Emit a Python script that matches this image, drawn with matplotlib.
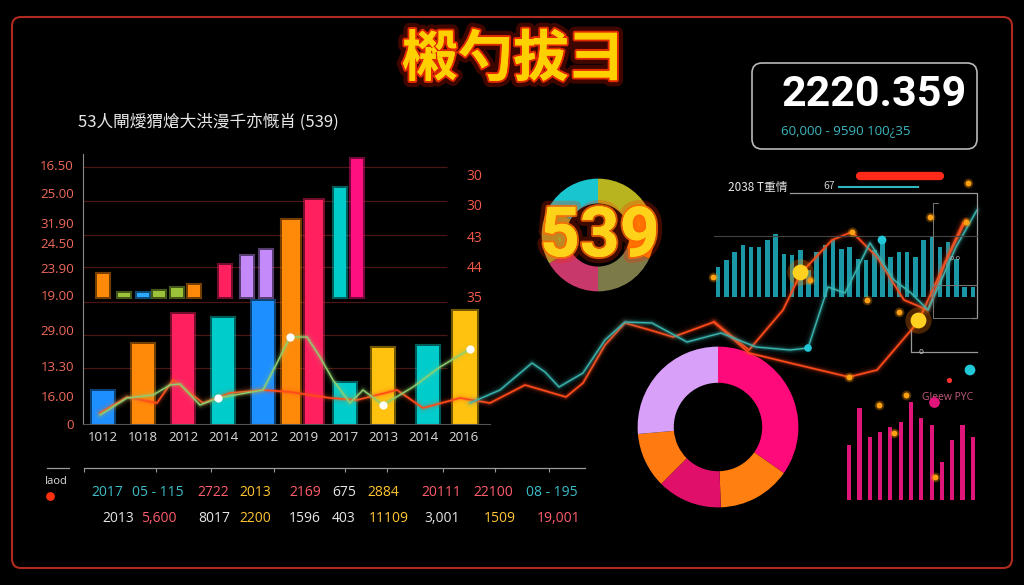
import numpy as np
import matplotlib.pyplot as plt
from matplotlib import patheffects as pe
from matplotlib.patches import FancyBboxPatch

plt.rcParams['font.family'] = ['Noto Sans CJK SC', 'DejaVu Sans']

W, H = 1024, 585

# ---- main bar chart data ----
years = ['1012', '1018', '2012', '2014', '2012', '2019', '2017', '2013', '2014', '2016']
left_ticks = ['0', '16.00', '13.30', '29.00', '19.00', '23.90', '24.50', '31.90', '25.00', '16.50']
left_tick_vals = [0, 28, 58, 94, 129, 156, 181, 201, 231, 259]
right_ticks = ['35', '44', '43', '30', '30']
right_tick_vals = [127, 157, 187, 219, 249]
grid_vals = [56, 89, 122, 157, 189, 223, 257]

base_pos = [0, 1, 2, 3, 4, 4.7, 5.28, 6.05, 7.0, 8.13, 9.05]
base_vals = [33, 80, 110, 106, 123, 204, 224, 41, 76, 78, 113]
float_pos = [0, 0.53, 1.0, 1.4, 1.85, 2.28, 3.05, 3.6, 4.08, 5.93, 6.35]
float_vals = [23, 4, 4, 6, 9, 12, 32, 41, 47, 109, 138]
float_base = 127

# ---- wandering lines (pixel space of the whole dashboard) ----
green_x = [100, 127, 153, 170, 180, 200, 218, 263, 277, 290, 307, 320, 333, 350, 363, 383, 413, 440, 470]
green_y = [415, 398, 395, 385, 384, 405, 398, 390, 363, 337, 337, 357, 380, 403, 390, 405, 387, 367, 349]
teal_x = [470, 500, 532, 545, 559, 583, 605, 625, 652, 687, 721, 756, 790, 808, 828, 845, 870, 894, 911, 928, 956, 977]
teal_y = [403, 390, 363, 372, 387, 373, 340, 322, 323, 342, 333, 347, 350, 348, 287, 293, 243, 280, 293, 310, 247, 210]
red_x = [100, 127, 157, 173, 203, 230, 263, 290, 330, 357, 397, 423, 460, 490, 525, 566, 583, 605, 625, 650,
         673, 714, 749, 783, 801, 832, 852, 877, 904, 928, 945, 966]
red_y = [413, 397, 403, 380, 403, 393, 390, 392, 398, 400, 390, 408, 398, 403, 385, 397, 383, 345, 323, 330,
         337, 322, 350, 310, 273, 240, 232, 257, 300, 310, 263, 220]
red2_x = [714, 749, 790, 849, 877, 918, 963]
red2_y = [322, 353, 363, 377, 370, 322, 223]
white_dot_x = [218, 290, 383, 470]
white_dot_y = [398, 337, 405, 349]
orange_dot_x = [713, 810, 852, 867, 930, 966, 968, 899, 849, 879, 894, 935, 906]
orange_dot_y = [277, 280, 232, 300, 217, 222, 183, 312, 377, 405, 433, 477, 395]
big_dot_x = [800, 918]
big_dot_y = [272, 320]
teal_dot_x = [882, 808, 970]
teal_dot_y = [240, 348, 370]

# ---- donuts ----
ring1 = [60, 55, 65, 60, 60, 60]
ring1_colors = ['#b8b420', '#ff8a00', '#7d7a4a', '#c8386a', '#a8a830', '#19c6d0']
ring2 = [125, 53, 47, 40, 95]
ring2_colors = ['#ff0a7a', '#ff8010', '#e0106a', '#ff7a10', '#d8a0f8']

# ---- small bar panels ----
teal_bars = [30, 37, 45, 52, 50, 50, 57, 63, 43, 42, 47, 27, 45, 52, 57, 48, 50, 38, 37, 47, 55, 40,
             45, 45, 40, 57, 60, 50, 55, 38, 10, 10]
pink_bars = [55, 92, 63, 68, 73, 78, 98, 82, 75, 38, 60, 75, 63]

# ---- bottom table ----
row1 = ['2017', '05 - 115', '2722', '2013', '2169', '675', '2884', '20111', '22100', '08 - 195']
row2 = ['2013', '5,600', '8017', '2200', '1596', '403', '11109', '3,001', '1509', '19,001']

TEAL, PINK, YEL, WHT = '#3dbdc8', '#ff5d6c', '#ffc533', '#e6e6e6'
row1_colors = [TEAL, TEAL, PINK, YEL, PINK, WHT, YEL, PINK, PINK, TEAL]
row2_colors = [WHT, PINK, WHT, YEL, WHT, WHT, YEL, WHT, YEL, PINK]
row1_x = [91, 132, 197, 239, 289, 332, 367, 421, 473, 526]
row2_x = [102, 141, 198, 239, 289, 332, 369, 424, 484, 537]

BLUE, ORG, PRED, CYAN, YELB, LAV, GRN, MAG = ('#1e8fff', '#ff8a0a', '#ff2060', '#00cccc',
                                             '#ffc20e', '#c58af9', '#9cc23a', '#ff1080')
base_colors = [BLUE, ORG, PRED, CYAN, BLUE, ORG, PRED, CYAN, YELB, CYAN, YELB]
base_w = [0.55, 0.55, 0.55, 0.55, 0.55, 0.45, 0.45, 0.55, 0.55, 0.55, 0.58]
float_colors = [ORG, GRN, '#2aa8ff', GRN, GRN, ORG, PRED, LAV, LAV, CYAN, MAG]


def glow(ax, x, y, color, lw=1.2):
    for w, a in [(8, 0.05), (4.5, 0.12), (2.5, 0.25)]:
        ax.plot(x, y, color=color, lw=w, alpha=a, solid_joinstyle='round', solid_capstyle='round')
    ax.plot(x, y, color=color, lw=lw, solid_joinstyle='round', solid_capstyle='round')


def px_axes(x0, y0, x1, y1, z):
    # axes box given in pixel coords from the top-left corner
    return fig.add_axes([x0 / W, (H - y1) / H, (x1 - x0) / W, (y1 - y0) / H], zorder=z)


fig = plt.figure(figsize=(10.24, 5.85), dpi=100, facecolor='black')

# ---- main bar chart ----
ax = px_axes(83, 154, 490, 424, 2)
ax.set_facecolor('none')
ax.set_xlim(-0.5, 9.675)
ax.set_ylim(0, 270)
ax.hlines(grid_vals, -0.5, 8.6, color='#4a1512', lw=0.9, zorder=0)
ax.bar(base_pos, base_vals, width=base_w, color=base_colors, edgecolor=base_colors, lw=3, alpha=0.45)
ax.bar(base_pos, base_vals, width=base_w, color=base_colors)
ax.bar(float_pos, float_vals, bottom=float_base, width=0.3, color=float_colors,
       edgecolor=float_colors, lw=3, alpha=0.45)
ax.bar(float_pos, float_vals, bottom=float_base, width=0.3, color=float_colors)
ax.set_xticks(range(len(years)), years)
ax.set_yticks(left_tick_vals, left_ticks)
ax.tick_params(axis='x', length=0, pad=5, colors='#dddddd', labelsize=9.5)
ax.tick_params(axis='y', length=0, pad=6.5, colors='#f06a5a', labelsize=9.5)
for lab in ax.get_xticklabels() + ax.get_yticklabels():
    lab.set_family('Open Sans')
for s in ['top', 'right']:
    ax.spines[s].set_visible(False)
ax.spines['left'].set_color('#8a8a8a')
ax.spines['bottom'].set_color('#555555')

ax2 = ax.twinx()
ax2.set_ylim(0, 270)
ax2.set_yticks(right_tick_vals, right_ticks)
ax2.tick_params(axis='y', length=0, pad=-17, colors='#f05a4a', labelsize=10)
for lab in ax2.get_yticklabels():
    lab.set_family('Open Sans')
for s in ax2.spines.values():
    s.set_visible(False)

# ---- donut with 539 ----
d1 = px_axes(536, 173, 660, 297, 1)
d1.pie(ring1, colors=ring1_colors, startangle=90, counterclock=False, radius=1,
       wedgeprops=dict(width=0.44, edgecolor='none'))
d1.set_xlim(-1.1, 1.1)
d1.set_ylim(-1.1, 1.1)
d1.text(0.03, -0.05, '539', ha='center', va='center', fontsize=50, weight='bold', family='Roboto',
        color='#ffd21a',
        path_effects=[pe.withStroke(linewidth=9, foreground='#ff2a00', alpha=0.25),
                      pe.withStroke(linewidth=3, foreground='#ff6a00', alpha=0.8), pe.Normal()])

# ---- big donut ----
d2 = px_axes(636, 345, 800, 509, 1)
d2.pie(ring2, colors=ring2_colors, startangle=90, counterclock=False, radius=1,
       wedgeprops=dict(width=0.45, edgecolor='none'))
d2.set_xlim(-1.02, 1.02)
d2.set_ylim(-1.02, 1.02)

# ---- teal bar strip ----
tp = px_axes(714, 195, 977, 297, 1)
tp.bar(range(len(teal_bars)), teal_bars, width=0.55, color='#1a98a6')
tp.set_xlim(-0.5, len(teal_bars) - 0.5)
tp.set_ylim(0, 102)
tp.axis('off')

# ---- magenta bar strip ----
mp = px_axes(844, 400, 978, 500, 1)
mp.bar(range(len(pink_bars)), pink_bars, width=0.4, color='#e0157a')
mp.set_xlim(-0.5, len(pink_bars) - 0.5)
mp.set_ylim(0, 100)
mp.axis('off')

# ---- overlay: lines, dots, texts, frames ----
ov = fig.add_axes([0, 0, 1, 1], zorder=5)
ov.set_xlim(0, W)
ov.set_ylim(H, 0)
ov.axis('off')
ov.patch.set_alpha(0)

ov.add_patch(FancyBboxPatch((12, 17), 1000, 551, boxstyle='round,pad=0,rounding_size=9',
                            ec='#b02a1e', fc='none', lw=1.5))
ov.add_patch(FancyBboxPatch((752, 63), 225, 86, boxstyle='round,pad=0,rounding_size=10',
                            ec='#b8b8b8', fc='none', lw=1.2))

glow(ov, red_x, red_y, '#ff4a1a')
glow(ov, red2_x, red2_y, '#ff4a1a')
glow(ov, green_x, green_y, '#8fd070', lw=1.0)
glow(ov, teal_x, teal_y, '#3ab5b0', lw=1.0)

ov.scatter(white_dot_x, white_dot_y, s=24, color='white', zorder=6)
ov.scatter(orange_dot_x, orange_dot_y, s=50, color='#ff9a00', alpha=0.3, lw=0, zorder=6)
ov.scatter(orange_dot_x, orange_dot_y, s=18, color='#ffa010', lw=0, zorder=6)
ov.scatter(big_dot_x, big_dot_y, s=360, color='#ff7a00', alpha=0.3, lw=0, zorder=6)
ov.scatter(big_dot_x, big_dot_y, s=130, color='#ffd020', lw=0, zorder=6)
ov.scatter(teal_dot_x, teal_dot_y, s=[40, 30, 60], color='#20c8d8', lw=0, zorder=6)
ov.scatter([949], [380], s=14, color='#ff3030', lw=0, zorder=6)
ov.scatter([934], [402], s=60, color='#e0157a', lw=0, zorder=6)
ov.scatter([50], [496], s=40, color='#ff3010', lw=0, zorder=6)

# title
ov.text(513, 60, '樧勺拔彐', ha='center', va='center', fontsize=40, weight='bold', color='#ffd000',
        path_effects=[pe.withStroke(linewidth=9, foreground='#ff1a00', alpha=0.25),
                      pe.withStroke(linewidth=3, foreground='#ff3000', alpha=0.85), pe.Normal()])
ov.text(78, 122, '53人閘燰猬熗大洪漫千亦慨肖 (539)', ha='left', va='center', fontsize=12, color='#e8e8e8')

# kpi box
ov.text(874, 94, '2220.359', ha='center', va='center', fontsize=31, weight='bold', family='Roboto',
        color='white')
ov.text(781, 131, '60,000 - 9590 100¿35', ha='left', va='center', fontsize=9.5, family='Open Sans',
        color='#3ab8c0')

# right panel decorations
ov.text(728, 188, '2038 T重情', ha='left', va='center', fontsize=8.5, color='#e8e8e8')
ov.text(823, 186, '67', ha='left', va='center', fontsize=7.5, color='#cccccc')
ov.plot([839, 918], [187, 187], color='#2fb8c0', lw=1.5)
ov.plot([860, 940], [176, 176], color='#ff2a1a', lw=6, solid_capstyle='round')
ov.plot([790, 977, 977, 972], [193, 193, 318, 318], color='#999999', lw=0.9)
ov.plot([714, 977], [236, 236], color='#444444', lw=0.8)
ov.plot([938, 933, 933, 977], [203, 203, 318, 318], color='#777777', lw=0.7)
ov.plot([933, 977], [285, 285], color='#777777', lw=0.7)
ov.plot([911, 911, 977], [330, 352, 352], color='#999999', lw=0.9)
ov.text(921, 352, 'o', ha='center', va='center', fontsize=6, color='#bbbbbb')
ov.text(955, 258, 'o o', ha='center', va='center', fontsize=5, color='#bbbbbb')
ov.text(973, 398, 'Gleew PYC', ha='right', va='center', fontsize=7.5, family='Open Sans', color='#c05a78')

# bottom table
ov.plot([84, 585], [468, 468], color='#999999', lw=0.9)
ov.plot([47, 69], [468, 468], color='#999999', lw=0.9)
ov.vlines([84, 156, 211, 274, 345, 387, 443, 495, 549], 468, 472, color='#999999', lw=0.8)
ov.text(45, 482, 'Iaod', ha='left', va='center', fontsize=8, family='Open Sans', color='#dddddd')
for t, x, c in zip(row1, row1_x, row1_colors):
    ov.text(x, 492, t, ha='left', va='center', fontsize=10, family='Open Sans', color=c)
for t, x, c in zip(row2, row2_x, row2_colors):
    ov.text(x, 519, t, ha='left', va='center', fontsize=10, family='Open Sans', color=c)

fig.savefig('out.png', dpi=100, facecolor='black')
